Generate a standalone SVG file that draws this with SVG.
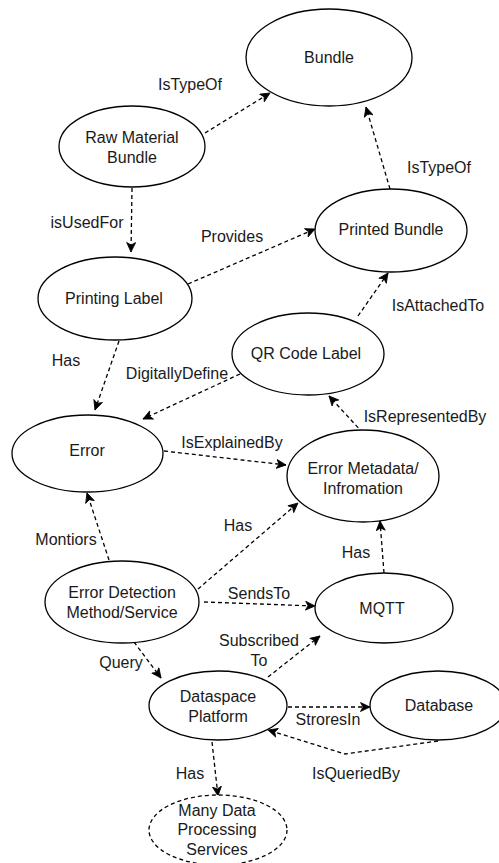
<svg xmlns="http://www.w3.org/2000/svg" width="499" height="863" viewBox="0 0 499 863">
  <style>
    .node { fill: #ffffff; stroke: #000000; stroke-width: 1.3; }
    .dashed { stroke-dasharray: 4 3; }
    .edge { fill: none; stroke: #000000; stroke-width: 1.3; stroke-dasharray: 4 3; marker-end: url(#arrow); }
    text { font-family: "Liberation Sans", Arial, Helvetica, sans-serif; font-size: 16px; fill: #1a1a1a; text-anchor: middle; }
  </style>
  <defs>
    <marker id="arrow" viewBox="-10 -5 11 10" refX="0" refY="0" markerWidth="11" markerHeight="10" markerUnits="userSpaceOnUse" orient="auto">
      <path d="M-9.5,-4.5 L0,0 L-9.5,4.5 L-7,0 Z" fill="#000000" stroke="#000000" stroke-width="0.8" stroke-linejoin="miter"/>
    </marker>
  </defs>
  <rect width="499" height="863" fill="#ffffff"/>

  <!-- connectors -->
  <g id="connectors">
    <path class="edge" d="M205,133 L270,93"/>
    <path class="edge" d="M390,189 L366,107"/>
    <path class="edge" d="M132,188 L131,252"/>
    <path class="edge" d="M188,284 L315,229"/>
    <path class="edge" d="M358,316 L388,273"/>
    <path class="edge" d="M119,341 L95,410"/>
    <path class="edge" d="M240,374 L143,419"/>
    <path class="edge" d="M363,433 L329,396"/>
    <path class="edge" d="M164,451 L286,465"/>
    <path class="edge" d="M109,560 L87,493"/>
    <path class="edge" d="M198,589 L298,503"/>
    <path class="edge" d="M384,573 L380,521"/>
    <path class="edge" d="M204,602 L315,606"/>
    <path class="edge" d="M134,642 L161,678"/>
    <path class="edge" d="M268,677 L320,636"/>
    <path class="edge" d="M288,707 L370,707"/>
    <path class="edge" d="M438,741 L345,754 L268,730"/>
    <path class="edge" d="M212,742 L218,796"/>

    <text x="190" y="90">IsTypeOf</text>
    <text x="439" y="173">IsTypeOf</text>
    <text x="87" y="228">isUsedFor</text>
    <text x="232" y="242">Provides</text>
    <text x="438" y="311">IsAttachedTo</text>
    <text x="66" y="366">Has</text>
    <text x="177" y="379">DigitallyDefine</text>
    <text x="425" y="422">IsRepresentedBy</text>
    <text x="232" y="448">IsExplainedBy</text>
    <text x="66" y="545">Montiors</text>
    <text x="238" y="531">Has</text>
    <text x="356" y="558">Has</text>
    <text x="259" y="599">SendsTo</text>
    <text x="121" y="668">Query</text>
    <text x="259" y="646">Subscribed</text>
    <text x="259" y="666">To</text>
    <text x="328" y="725">StroresIn</text>
    <text x="356" y="779">IsQueriedBy</text>
    <text x="190" y="779">Has</text>
  </g>

  <!-- nodes -->
  <g id="bundle">
    <ellipse class="node" cx="329" cy="57.5" rx="83" ry="48.5"/>
    <text x="329" y="63">Bundle</text>
  </g>
  <g id="raw-material-bundle">
    <ellipse class="node" cx="132" cy="146.5" rx="73" ry="40.5"/>
    <text x="132" y="143">Raw Material</text>
    <text x="132" y="163">Bundle</text>
  </g>
  <g id="printed-bundle">
    <ellipse class="node" cx="391" cy="230.5" rx="76" ry="41.5"/>
    <text x="391" y="235">Printed Bundle</text>
  </g>
  <g id="printing-label">
    <ellipse class="node" cx="115" cy="298.5" rx="77" ry="41.5"/>
    <text x="114" y="304">Printing Label</text>
  </g>
  <g id="qr-code-label">
    <ellipse class="node" cx="308" cy="354" rx="76" ry="41"/>
    <text x="306" y="359">QR Code Label</text>
  </g>
  <g id="error">
    <ellipse class="node" cx="87.5" cy="453.5" rx="75.5" ry="38.5"/>
    <text x="87" y="456">Error</text>
  </g>
  <g id="error-metadata">
    <ellipse class="node" cx="363" cy="476" rx="76" ry="46"/>
    <text x="363" y="474">Error Metadata/</text>
    <text x="363" y="494">Infromation</text>
  </g>
  <g id="error-detection">
    <ellipse class="node" cx="122" cy="602" rx="77" ry="41"/>
    <text x="122" y="598">Error Detection</text>
    <text x="122" y="618">Method/Service</text>
  </g>
  <g id="mqtt">
    <ellipse class="node" cx="384" cy="608" rx="69" ry="35"/>
    <text x="382" y="614">MQTT</text>
  </g>
  <g id="dataspace-platform">
    <ellipse class="node" cx="218" cy="705.5" rx="69" ry="34.5"/>
    <text x="218" y="702">Dataspace</text>
    <text x="218" y="722">Platform</text>
  </g>
  <g id="database">
    <ellipse class="node" cx="438" cy="705.5" rx="68" ry="34.5"/>
    <text x="439" y="711">Database</text>
  </g>
  <g id="data-processing-services">
    <ellipse class="node dashed" cx="218" cy="830" rx="69" ry="35"/>
    <text x="217" y="816">Many Data</text>
    <text x="217" y="835">Processing</text>
    <text x="217" y="855">Services</text>
  </g>
</svg>
